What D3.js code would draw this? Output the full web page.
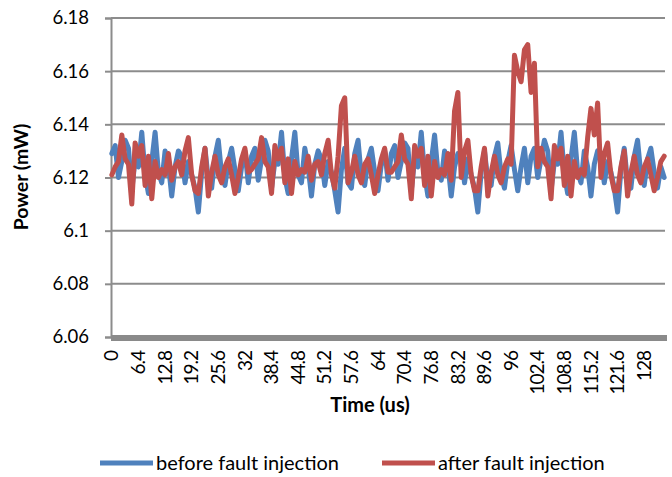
<!DOCTYPE html>
<html>
<head>
<meta charset="utf-8">
<script src="https://cdn.jsdelivr.net/npm/d3@7"></script>
<style>
  body { margin: 0; background: #fff; }
  text { font-family: Lato, "Open Sans", sans-serif; fill: #000; }
</style>
</head>
<body>
<svg id="chart-svg"></svg>
<script>
// Time step between samples (us)
var timeStep = 0.8;

// Power before fault injection (mW)
var beforeFault = [
  6.129, 6.132, 6.120, 6.126, 6.134, 6.131, 6.115, 6.127, 6.124, 6.137,
  6.121, 6.114, 6.126, 6.137, 6.122, 6.118, 6.130, 6.125, 6.113, 6.124,
  6.130, 6.128, 6.118, 6.126, 6.121, 6.116, 6.107, 6.122, 6.131, 6.119,
  6.116, 6.128, 6.134, 6.121, 6.117, 6.126, 6.131, 6.123, 6.115, 6.124,
  6.130, 6.118,
  6.128, 6.131, 6.119, 6.127, 6.134, 6.130, 6.116, 6.126, 6.125, 6.137,
  6.120, 6.114, 6.127, 6.137, 6.121, 6.118, 6.131, 6.124, 6.113, 6.125,
  6.130, 6.127, 6.117, 6.126, 6.122, 6.115, 6.107, 6.123, 6.131, 6.118,
  6.116, 6.129, 6.134, 6.120, 6.117, 6.127, 6.131, 6.122, 6.115, 6.125,
  6.130, 6.119,
  6.129, 6.132, 6.120, 6.126, 6.133, 6.131, 6.115, 6.127, 6.124, 6.137,
  6.121, 6.113, 6.126, 6.136, 6.122, 6.119, 6.130, 6.125, 6.113, 6.124,
  6.129, 6.128, 6.118, 6.127, 6.121, 6.116, 6.107, 6.122, 6.130, 6.119,
  6.117, 6.128, 6.133, 6.121, 6.116, 6.126, 6.132, 6.123, 6.115, 6.124,
  6.131, 6.118,
  6.128, 6.131, 6.120, 6.127, 6.134, 6.130, 6.115, 6.126, 6.125, 6.137,
  6.121, 6.114, 6.127, 6.137, 6.122, 6.118, 6.130, 6.124, 6.113, 6.125,
  6.130, 6.127, 6.118, 6.126, 6.122, 6.116, 6.107, 6.123, 6.131, 6.118,
  6.116, 6.128, 6.134, 6.121, 6.117, 6.127, 6.131, 6.122, 6.116, 6.124,
  6.120
];

// Power after fault injection (mW)
var afterFault = [
  6.121, 6.124, 6.126, 6.136, 6.127, 6.125, 6.110, 6.133, 6.128, 6.132,
  6.117, 6.128, 6.112, 6.126, 6.120, 6.123, 6.121, 6.129, 6.119, 6.124,
  6.126, 6.121, 6.130, 6.135, 6.121, 6.115, 6.114, 6.124, 6.131, 6.113,
  6.122, 6.128, 6.121, 6.118, 6.124, 6.127, 6.121, 6.114, 6.120, 6.127,
  6.131, 6.122,
  6.123, 6.125, 6.127, 6.135, 6.126, 6.124, 6.114, 6.132, 6.127, 6.131,
  6.118, 6.127, 6.114, 6.126, 6.121, 6.123, 6.122, 6.128, 6.119, 6.125,
  6.126, 6.121, 6.129, 6.134, 6.121, 6.116, 6.128, 6.147, 6.150, 6.118,
  6.122, 6.128, 6.121, 6.118, 6.125, 6.127, 6.121, 6.114, 6.121, 6.127,
  6.131, 6.122,
  6.122, 6.124, 6.126, 6.136, 6.127, 6.125, 6.112, 6.132, 6.128, 6.131,
  6.117, 6.128, 6.113, 6.126, 6.120, 6.123, 6.121, 6.129, 6.119, 6.145,
  6.152, 6.120, 6.130, 6.134, 6.121, 6.115, 6.115, 6.124, 6.131, 6.113,
  6.122, 6.128, 6.121, 6.118, 6.124, 6.127, 6.125, 6.166, 6.160, 6.156,
  6.168, 6.170,
  6.152, 6.163, 6.124, 6.131, 6.126, 6.124, 6.112, 6.132, 6.127, 6.131,
  6.117, 6.128, 6.113, 6.126, 6.120, 6.123, 6.121, 6.135, 6.146, 6.136,
  6.148, 6.120, 6.129, 6.133, 6.121, 6.115, 6.115, 6.124, 6.130, 6.113,
  6.122, 6.128, 6.121, 6.118, 6.124, 6.127, 6.121, 6.115, 6.120, 6.126,
  6.128
];

// Axis tick labels
var timeTicks = [0, 6.4, 12.8, 19.2, 25.6, 32, 38.4, 44.8, 51.2, 57.6, 64, 70.4,
  76.8, 83.2, 89.6, 96, 102.4, 108.8, 115.2, 121.6, 128];
var powerTicks = [6.06, 6.08, 6.1, 6.12, 6.14, 6.16, 6.18];

var seriesNames = ["before fault injection", "after fault injection"];
var seriesColors = ["#4F81BD", "#C0504D"];

// Set the dimensions of the svg element
var width = 672;
var height = 477;
var svg = d3.select("#chart-svg").attr("width", width).attr("height", height);

// Plot area
var plotLeft = 111, plotRight = 665, plotTop = 18, plotBottom = 337;

var x = d3.scaleLinear().domain([-0.2, 133.0]).range([plotLeft, plotRight]);
var y = d3.scaleLinear().domain([6.06, 6.18]).range([plotBottom, plotTop]);

// Y axis with ticks on the left
var yAxis = d3.axisLeft(y)
  .tickValues(powerTicks)
  .tickSize(6)
  .tickFormat(function(d) { return d3.format("")(+d.toFixed(2)); });

var gy = svg.append("g")
  .attr("transform", "translate(" + plotLeft + ",0)")
  .call(yAxis);
gy.select(".domain").attr("stroke", "#8c8c8c").attr("stroke-width", 2);
gy.selectAll(".tick line").attr("stroke", "#8c8c8c").attr("stroke-width", 2);
gy.selectAll(".tick text")
  .attr("x", -22)
  .style("font-family", "Lato, sans-serif")
  .style("font-size", "18.5px")
  .attr("fill", "#000");

// Horizontal gridlines
svg.append("g")
  .selectAll("line")
  .data(powerTicks.slice(1))
  .join("line")
  .attr("x1", plotLeft)
  .attr("x2", plotRight)
  .attr("y1", function(d) { return y(d); })
  .attr("y2", function(d) { return y(d); })
  .attr("stroke", "#8c8c8c")
  .attr("stroke-width", 2);

// Thick category axis line at the bottom
svg.append("line")
  .attr("x1", plotLeft)
  .attr("x2", plotRight + 2)
  .attr("y1", y(6.06) + 1)
  .attr("y2", y(6.06) + 1)
  .attr("stroke", "#8a8a8a")
  .attr("stroke-width", 6);

// Rotated time labels
svg.append("g")
  .selectAll("text")
  .data(timeTicks)
  .join("text")
  .attr("transform", function(d) { return "translate(" + x(d) + ",351) rotate(-90)"; })
  .attr("text-anchor", "end")
  .attr("dy", "0.35em")
  .style("font-size", "19px")
  .style("letter-spacing", "-1px")
  .text(function(d) { return d; });

// Series lines
var line = d3.line()
  .x(function(d, i) { return x(i * timeStep); })
  .y(function(d) { return y(d); });

[beforeFault, afterFault].forEach(function(series, k) {
  svg.append("path")
    .datum(series)
    .attr("fill", "none")
    .attr("stroke", seriesColors[k])
    .attr("stroke-width", 5)
    .attr("stroke-linejoin", "round")
    .attr("stroke-linecap", "round")
    .attr("d", line);
});

// Axis titles
svg.append("text")
  .attr("transform", "translate(28,177) rotate(-90)")
  .attr("text-anchor", "middle")
  .style("font-size", "19.5px")
  .style("font-weight", "bold")
  .text("Power (mW)");

svg.append("text")
  .attr("x", 370)
  .attr("y", 412)
  .attr("text-anchor", "middle")
  .style("font-size", "20px")
  .style("font-weight", "bold")
  .text("Time (us)");

// Legend
var legendX = [100, 382];
seriesNames.forEach(function(name, k) {
  svg.append("line")
    .attr("x1", legendX[k])
    .attr("x2", legendX[k] + 53)
    .attr("y1", 463)
    .attr("y2", 463)
    .attr("stroke", seriesColors[k])
    .attr("stroke-width", 5);
  svg.append("text")
    .attr("x", legendX[k] + 56)
    .attr("y", 463)
    .attr("dy", "0.35em")
    .style("font-size", "20px")
    .text(name);
});
</script>
</body>
</html>
